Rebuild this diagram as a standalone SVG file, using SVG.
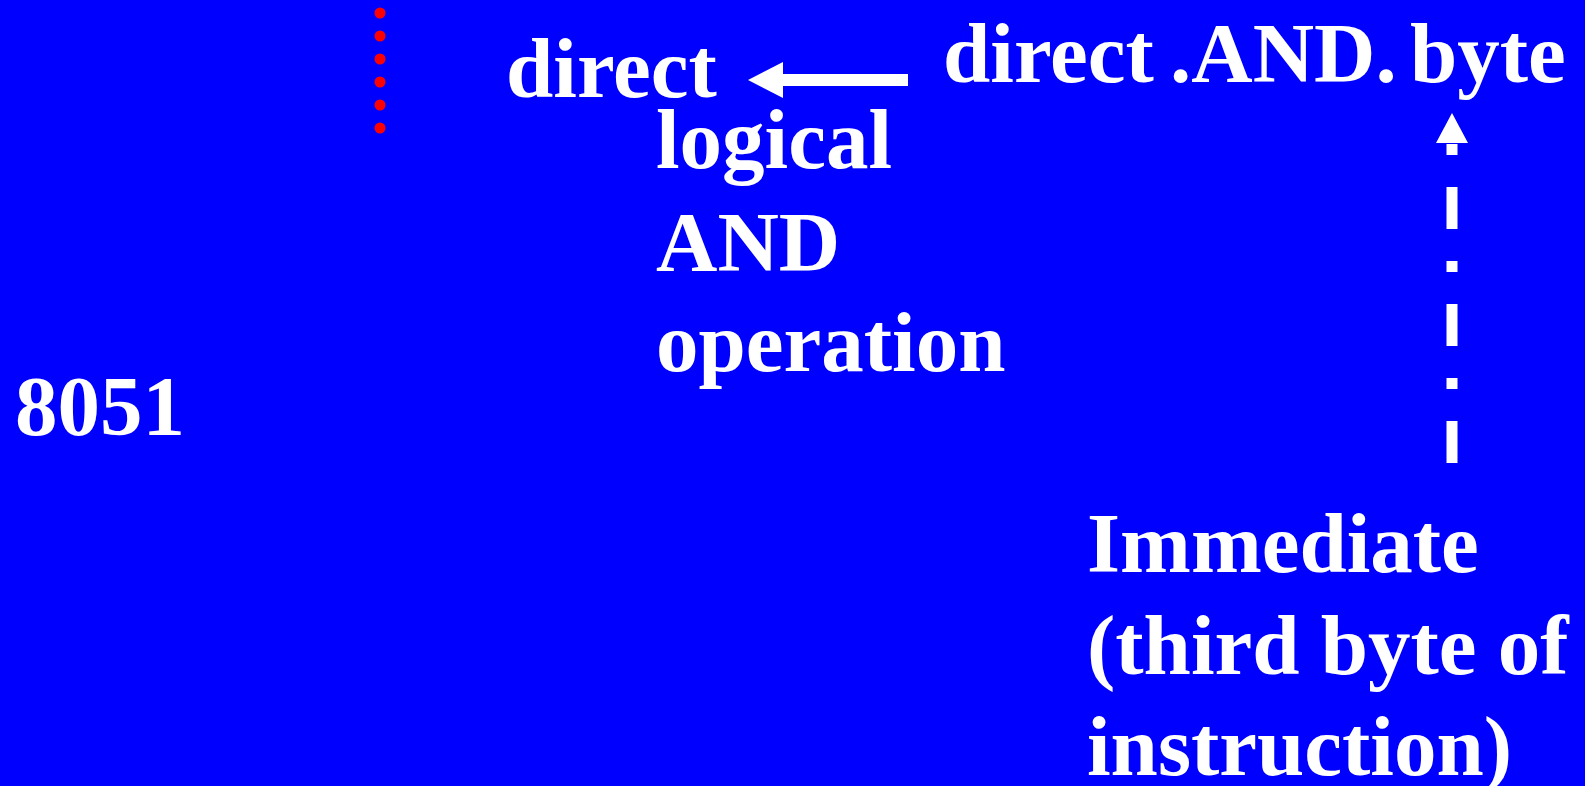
<svg xmlns="http://www.w3.org/2000/svg" width="1585" height="786" viewBox="0 0 1585 786">
  <style>
    .t { font-family: "Liberation Serif", "Times New Roman", serif; font-weight: bold; font-size: 85px; fill: #ffffff; }
    .dot { fill: #ff0000; }
    .arrow { fill: #ffffff; }
  </style>
  <rect x="0" y="0" width="1585" height="786" fill="#0000ff"/>

  <!-- vertical dotted marker -->
  <g id="dots">
    <circle class="dot" cx="380" cy="13" r="5.5"/>
    <circle class="dot" cx="380" cy="36" r="5.5"/>
    <circle class="dot" cx="380" cy="59" r="5.5"/>
    <circle class="dot" cx="380" cy="82" r="5.5"/>
    <circle class="dot" cx="380" cy="105" r="5.5"/>
    <circle class="dot" cx="380" cy="128" r="5.5"/>
  </g>

  <g id="dest"><text class="t" x="506" y="97">direct</text></g>

  <g id="expr">
    <text class="t" x="943" y="82">direct</text>
    <text class="t" x="1170" y="82">.AND.</text>
    <text class="t" x="1410" y="82">byte</text>
  </g>

  <g id="op-label">
    <text class="t" x="656" y="168">logical</text>
    <text class="t" x="656" y="271">AND</text>
    <text class="t" x="656" y="371">operation</text>
  </g>

  <g id="cpu"><text class="t" x="15" y="435">8051</text></g>

  <g id="imm-label">
    <text class="t" x="1087" y="572">Immediate</text>
    <text class="t" x="1087" y="674">(third byte of</text>
    <text class="t" x="1087" y="775">instruction)</text>
  </g>

  <g id="connectors">
    <!-- result arrow pointing to the destination -->
    <rect class="arrow" x="782" y="74" width="126" height="12"/>
    <polygon class="arrow" points="748,80 783,62 783,98"/>
    <!-- dash-dot arrow from the immediate operand up to "byte" -->
    <line x1="1452" y1="463" x2="1452" y2="143" stroke="#ffffff" stroke-width="11" stroke-dasharray="42 32 11 32"/>
    <polygon class="arrow" points="1452,113 1436,143 1468,143"/>
  </g>
</svg>
